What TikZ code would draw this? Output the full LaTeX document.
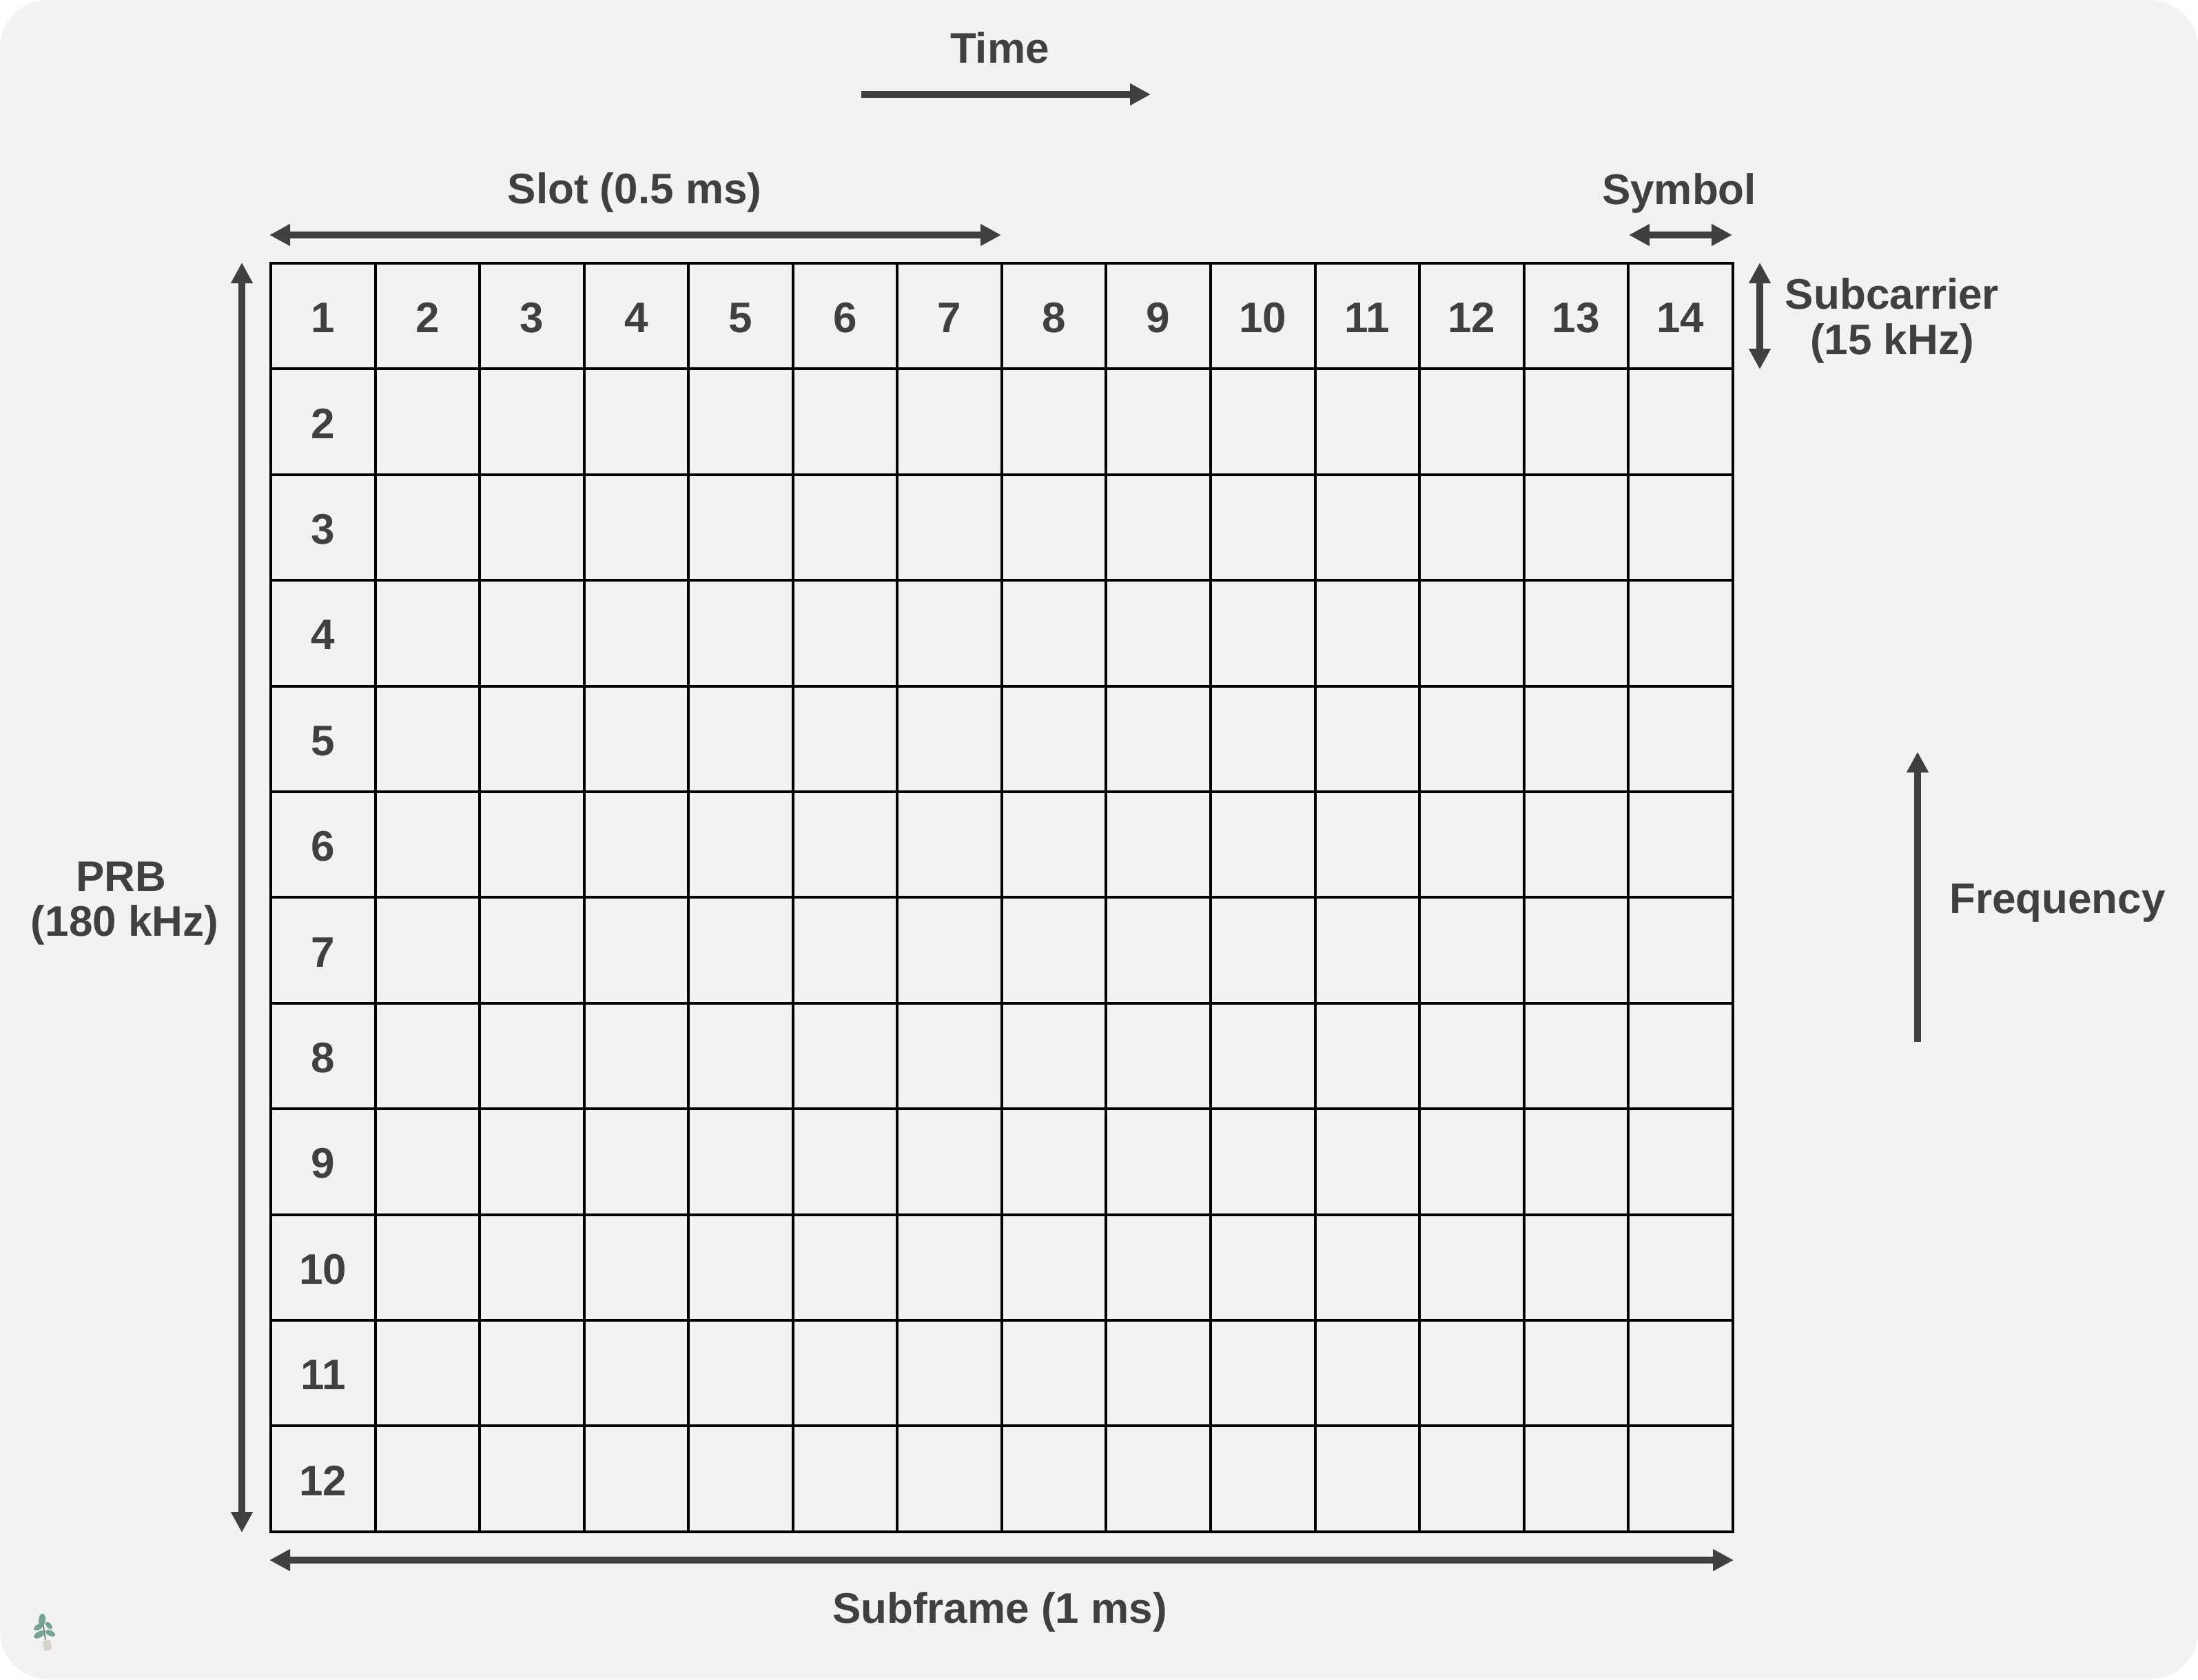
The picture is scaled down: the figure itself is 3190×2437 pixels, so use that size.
\documentclass[tikz,border=0pt]{standalone}
\usepackage{fontspec}
\setmainfont{Liberation Sans}
\usetikzlibrary{arrows.meta}
\definecolor{panelgray}{HTML}{F2F2F2}
\definecolor{inkgray}{HTML}{404040}
\definecolor{leafgreen}{HTML}{76A596}
\definecolor{potgray}{HTML}{D5D2CC}
\tikzset{
  label text/.style={text=inkgray,font=\fontsize{62}{66}\selectfont\bfseries,inner sep=0pt,anchor=base},
  one way/.style={draw=inkgray,line width=10pt,-{Triangle[length=30pt,width=30pt]}},
  two way/.style={draw=inkgray,line width=10pt,{Triangle[length=30pt,width=30pt]}-{Triangle[length=30pt,width=30pt]}},
  grid line/.style={draw=black,line width=4pt,line cap=rect},
  leaf/.style={fill=leafgreen,draw=none}
}

\begin{document}
\begin{tikzpicture}[x=1pt,y=-1pt]
  \def\gl{393}
  \def\gt{382}
  \def\cw{151.55}
  \def\ch{153.4}
  \useasboundingbox (0,0) rectangle (3190,2437);
  \fill[white] (0,0) rectangle (3190,2437);
  \fill[panelgray,rounded corners=70pt] (0,0) rectangle (3190,2437);

  % grid
  \foreach \i in {0,...,14}
    \draw[grid line] ({\gl+\i*\cw},\gt) -- ({\gl+\i*\cw},{\gt+12*\ch});
  \foreach \j in {0,...,12}
    \draw[grid line] (\gl,{\gt+\j*\ch}) -- ({\gl+14*\cw},{\gt+\j*\ch});

  % numbers
  \foreach \i in {1,...,14}
    \node[label text] (col\i) at ({\gl+(\i-0.5)*\cw},{\gt+0.5*\ch+24}) {\i};
  \foreach \j in {2,...,12}
    \node[label text] (row\j) at ({\gl+0.5*\cw},{\gt+(\j-0.5)*\ch+24}) {\j};

  % arrow ends
  \coordinate (timeA) at (1250,137);
  \coordinate (timeB) at (1670,137);
  \coordinate (slotA) at (391,341);
  \coordinate (slotB) at (1453,341);
  \coordinate (symA) at (2364,341);
  \coordinate (symB) at (2514,341);
  \coordinate (subcA) at (2554,381);
  \coordinate (subcB) at (2554,536);
  \coordinate (prbA) at (351,381);
  \coordinate (prbB) at (351,2224);
  \coordinate (frameA) at (391,2264);
  \coordinate (frameB) at (2516,2264);
  \coordinate (freqA) at (2783,1512);
  \coordinate (freqB) at (2783,1091);

  \draw[one way] (timeA) -- (timeB);
  \draw[two way] (slotA) -- (slotB);
  \draw[two way] (symA) -- (symB);
  \draw[two way] (subcA) -- (subcB);
  \draw[two way] (prbA) -- (prbB);
  \draw[two way] (frameA) -- (frameB);
  \draw[one way] (freqA) -- (freqB);

  \node[label text] (time) at (1451,91) {Time};
  \node[label text] (slot) at (921,295) {Slot (0.5 ms)};
  \node[label text] (symbol) at (2437,296) {Symbol};
  \node[label text] (subc) at (2746,448) {Subcarrier};
  \node[label text] (subcHz) at (2746,514) {(15 kHz)};
  \node[label text] (prb) at (176,1293) {PRB};
  \node[label text] (prbHz) at (181,1358) {(180 kHz)};
  \node[label text] (frame) at (1451,2355) {Subframe (1 ms)};
  \node[label text] (freq) at (2986,1325) {Frequency};

  % plant
  \draw[leafgreen!70!black,line width=1.5pt] (66,2380) -- (61,2345);
  \fill[leaf] (61,2351) ellipse[x radius=5pt,y radius=9.5pt,rotate=-5];
  \fill[leaf] (56,2361) ellipse[x radius=4pt,y radius=7.5pt,rotate=-60];
  \fill[leaf] (71,2359) ellipse[x radius=3.5pt,y radius=6.5pt,rotate=40];
  \fill[leaf] (57,2372) ellipse[x radius=4.5pt,y radius=8.5pt,rotate=-60];
  \fill[leaf] (73,2370) ellipse[x radius=4pt,y radius=7.5pt,rotate=65];
  \fill[potgray,rounded corners=2pt] (62,2381) -- (73,2380) -- (75,2394) -- (64,2396) -- cycle;
\end{tikzpicture}
\end{document}
